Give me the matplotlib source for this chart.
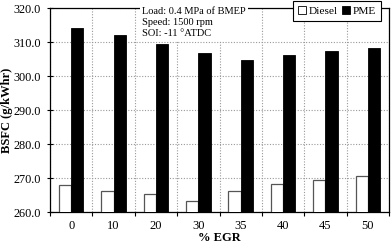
import matplotlib
matplotlib.use("Agg")
import matplotlib.pyplot as plt
import numpy as np
from matplotlib.ticker import FormatStrFormatter

# data
egr = ["0", "10", "20", "30", "35", "40", "45", "50"]
diesel = [267.8, 266.2, 265.2, 263.3, 266.2, 268.1, 269.3, 270.7]
pme = [314.0, 312.2, 309.3, 306.7, 304.6, 306.2, 307.4, 308.2]

plt.rcParams['font.family'] = ['Liberation Serif', 'DejaVu Serif']

fig = plt.figure(figsize=(3.92, 2.47), dpi=100)
ax = fig.add_axes([50 / 392, 35 / 247, 339 / 392, 204 / 247])

x = np.arange(len(egr))
w = 0.29
ax.bar(x - w / 2, diesel, w, color='white', edgecolor='#555555', linewidth=0.9,
       label='Diesel', zorder=3)
ax.bar(x + w / 2, pme, w, color='black', edgecolor='black', linewidth=0.6,
       label='PME', zorder=3)

ax.set_xlim(-0.5, len(egr) - 0.5)
ax.set_ylim(260, 320)
ax.set_yticks(np.arange(260, 321, 10))
ax.yaxis.set_major_formatter(FormatStrFormatter('%.1f'))

# gridlines at category boundaries, labels at centres
ax.set_xticks(np.arange(-0.5, len(egr)), minor=False)
ax.set_xticklabels([])
ax.set_xticks(x, minor=True)
ax.set_xticklabels(egr, minor=True)
ax.tick_params(axis='x', which='major', length=3, direction='out', width=0.8)
ax.tick_params(axis='x', which='minor', length=0, pad=6, labelsize=9)
ax.tick_params(axis='y', length=5, direction='inout', width=0.8, pad=4, labelsize=8.8)

ax.grid(True, which='major', linestyle=(0, (1, 1.5)), color='#999999', linewidth=0.8, zorder=0)
ax.set_axisbelow(True)
for s in ax.spines.values():
    s.set_linewidth(0.9)

ax.set_xlabel('% EGR', fontsize=9, fontweight='bold', labelpad=0)
ax.set_ylabel('BSFC (g/kWhr)', fontsize=9, fontweight='bold')
ax.yaxis.set_label_coords(-37 / 339, 0.5)

fig.text(142 / 392, 1 - 7 / 247, 'Load: 0.4 MPa of BMEP\nSpeed: 1500 rpm\nSOI: -11 \u00b0ATDC',
         fontsize=7.5, va='top', ha='left', linespacing=1.32,
         bbox=dict(facecolor='white', edgecolor='none', pad=1.5))

leg = fig.legend(loc='upper right', bbox_to_anchor=(381 / 392, 1 - 1 / 247), ncol=2,
                 fontsize=8.2, handlelength=0.7, handleheight=0.7, handletextpad=0.2,
                 columnspacing=0.4, borderpad=0.45, borderaxespad=0, fancybox=False,
                 framealpha=1, edgecolor='black')
leg.get_frame().set_linewidth(0.8)
for h in leg.legend_handles:
    h.set_edgecolor('black')
    h.set_linewidth(0.6)

fig.savefig('out.png', dpi=100)
